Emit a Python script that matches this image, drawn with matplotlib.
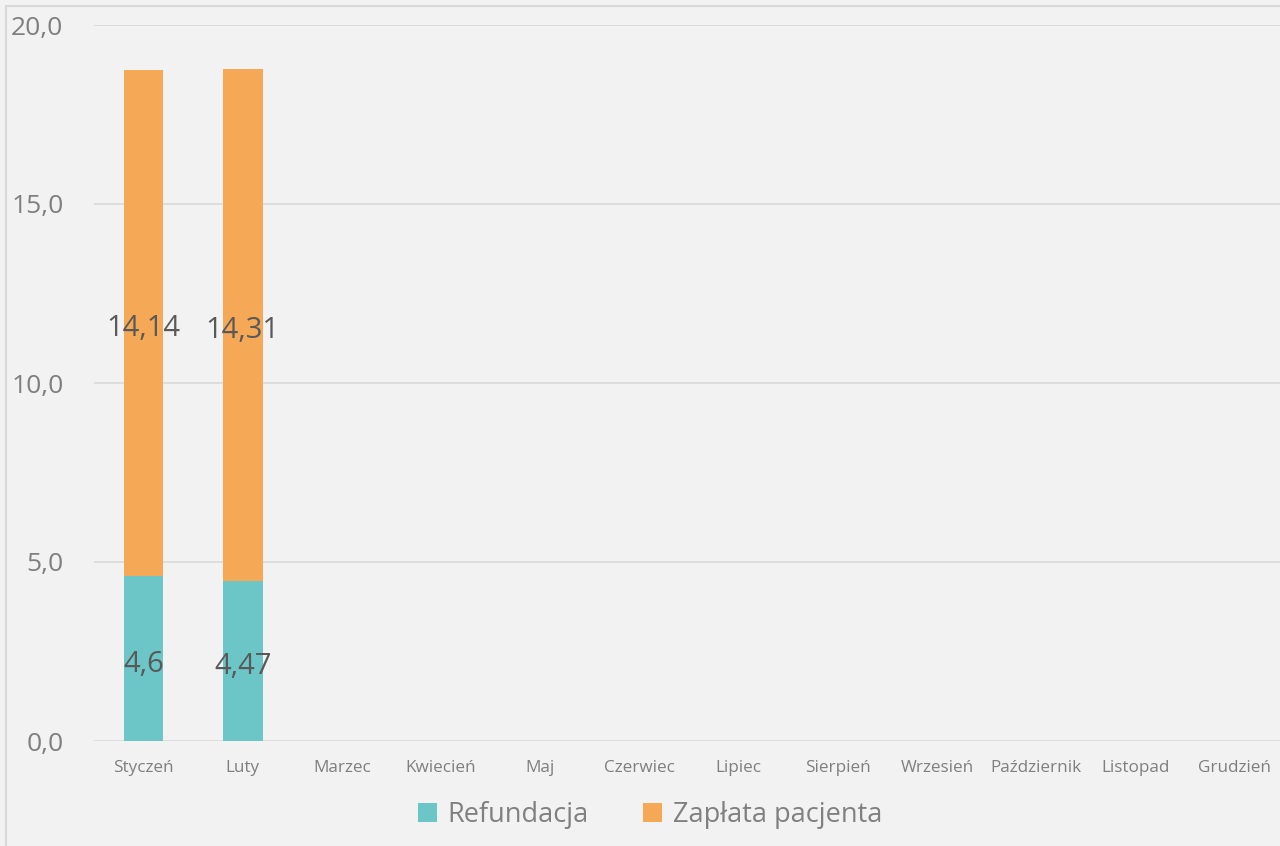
import matplotlib.pyplot as plt
import numpy as np
from matplotlib.patches import Rectangle

plt.rcParams['font.family'] = ['Open Sans', 'DejaVu Sans']

# Data
months = ['Styczeń', 'Luty', 'Marzec', 'Kwiecień', 'Maj', 'Czerwiec', 'Lipiec',
          'Sierpień', 'Wrzesień', 'Październik', 'Listopad', 'Grudzień']
refundacja = [4.6, 4.47]
zaplata = [14.14, 14.31]
refundacja_labels = ['4,6', '4,47']
zaplata_labels = ['14,14', '14,31']
yticks = [0, 5, 10, 15, 20]
ytick_labels = ['0,0', '5,0', '10,0', '15,0', '20,0']

teal = '#6CC5C6'
orange = '#F5A856'
bg = '#F2F2F2'

fig = plt.figure(figsize=(12.8, 8.46), dpi=100, facecolor=bg)
ax = fig.add_axes([94 / 1280, 1 - 741 / 846, 1190 / 1280, 716 / 846])
ax.set_facecolor(bg)

# outer chart border
fig.patches.append(Rectangle((6 / 1280, -0.01), 1.0, 1 - 6 / 846 + 0.01,
                             transform=fig.transFigure, fill=False,
                             edgecolor='#D9D9D9', linewidth=1.5))

x = np.arange(len(refundacja))
b1 = ax.bar(x, refundacja, 0.4, color=teal, label='Refundacja', zorder=3)
b2 = ax.bar(x, zaplata, 0.4, bottom=refundacja, color=orange,
            label='Zapłata pacjenta', zorder=3)

for i in range(len(refundacja)):
    ax.text(x[i], refundacja[i] / 2 - 0.15, refundacja_labels[i], ha='center', va='center',
            fontsize=21, color='#595959', zorder=4)
    ax.text(x[i], refundacja[i] + zaplata[i] / 2 - 0.15, zaplata_labels[i], ha='center',
            va='center', fontsize=21, color='#595959', zorder=4)

ax.set_xlim(-0.5, len(months) - 0.5)
ax.set_ylim(0, 20)
ax.set_xticks(range(len(months)))
ax.set_xticklabels(months, fontsize=12.3, color='#7F7F7F')
ax.set_yticks(yticks)
ax.set_yticklabels(ytick_labels, fontsize=19, color='#7F7F7F')
ax.tick_params(axis='both', length=0)
ax.tick_params(axis='y', pad=22)
ax.tick_params(axis='x', pad=14)
ax.grid(axis='y', color='#D9D9D9', linewidth=1.2, zorder=0)
for s in ax.spines.values():
    s.set_visible(False)

leg = fig.legend(handles=[b1, b2], loc='center', bbox_to_anchor=(650 / 1280, 1 - 815 / 846),
                 ncol=2, frameon=False, fontsize=19.5, handlelength=0.7, handleheight=0.7,
                 handletextpad=0.4, columnspacing=2.0)
for t in leg.get_texts():
    t.set_color('#808080')

fig.savefig('out.png', dpi=100, facecolor=bg)
